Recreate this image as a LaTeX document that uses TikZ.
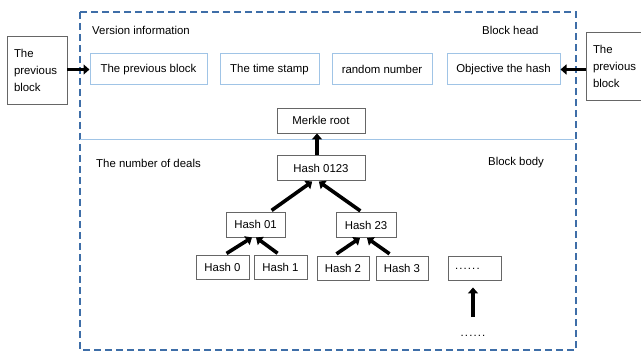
\documentclass[tikz,border=0pt]{standalone}
\usepackage{fontspec}
\setmainfont{Liberation Sans}
\usetikzlibrary{arrows.meta,positioning}
\definecolor{dashblue}{RGB}{62,110,168}
\definecolor{lightblue}{RGB}{160,196,230}
\tikzset{Chain/.style = {
		every node/.style = {font=\fontsize{11.4}{17}\selectfont, inner sep=0pt},
		headbox/.style = {draw=lightblue, line width=1pt, minimum height=31pt},
		hashbox/.style = {draw=black!60, line width=0.9pt, minimum height=25pt},
		sidebox/.style = {draw=black!60, line width=0.9pt, align=left, text width=46pt,
			minimum width=60pt, minimum height=68pt},
		caption/.style = {anchor=west},
		push/.style = {line width=3.6pt, -{Triangle[length=6pt,width=10pt]}},
	}% end of Chain style
}

\begin{document}
\begin{tikzpicture}[Chain,x=1pt,y=-1pt]
  \useasboundingbox (0,0) rectangle (641,353);

  % block frame
  \draw[dashblue, line width=1.8pt, dash pattern=on 7pt off 4pt] (80,12) rectangle (576,350);
  \coordinate (splitL) at (80,140);
  \coordinate (splitR) at (574,140);
  \draw[lightblue, line width=1pt] (splitL) -- (splitR);

  \node[caption] (verinfo) at (92,30) {Version information};
  \node[caption] (headtext) at (482,30) {Block head};
  \node[caption] (deals) at (96,163) {The number of deals};
  \node[caption] (bodytext) at (488,163) {Block body};

  % neighbours
  \node[sidebox] (prevL) at (37,70) {The\\previous\\block};
  \node[sidebox] (prevR) at (616,66) {The\\previous\\block};

  % block head
  \node[headbox, minimum width=117pt] (hprev) at (148.5,69.5) {The previous block};
  \node[headbox, minimum width=99pt] (htime) at (269.5,69.5) {The time stamp};
  \node[headbox, minimum width=100pt] (hrand) at (382,69.5) {random number};
  \node[headbox, minimum width=113pt] (hobj) at (503.5,69.5) {Objective the hash};
  \draw[push] (prevL.east |- hprev) -- (hprev.west);
  \draw[push] (prevR.west |- hobj) -- (hobj.east);

  % merkle tree
  \node[hashbox, minimum width=88pt] (merkle) at (321,120.5) {Merkle root};
  \node[hashbox, minimum width=88pt] (h0123) at (321,168) {Hash 0123};
  \node[hashbox, minimum width=59pt] (h01) at (255.5,224.5) {Hash 01};
  \node[hashbox, minimum width=60pt] (h23) at (366,225) {Hash 23};
  \node[hashbox, minimum width=53pt, minimum height=24pt] (h0) at (222.5,267.5) {Hash 0};
  \node[hashbox, minimum width=53pt, minimum height=24pt] (h1) at (280.5,267.5) {Hash 1};
  \node[hashbox, minimum width=52pt, minimum height=24pt] (h2) at (343,268) {Hash 2};
  \node[hashbox, minimum width=52pt, minimum height=24pt] (h3) at (402,268) {Hash 3};
  \node[hashbox, minimum height=24pt, text width=45pt, align=left, inner xsep=4pt] (hmore) at (474.5,268)
    {\hspace{3pt}\raisebox{-2pt}{\addfontfeatures{LetterSpace=10}......}};
  \node (more) at (473,336) {\addfontfeatures{LetterSpace=10}......};

  \draw[push] ([xshift=-4pt]h0123.north) -- ([xshift=-4pt]merkle.south);
  \draw[push, shorten <=2pt, shorten >=1pt] ([xshift=14.5pt]h01.north) -- ([xshift=-8pt]h0123.south);
  \draw[push, shorten <=2pt, shorten >=1pt] ([xshift=-4pt]h23.north) -- ([xshift=-3pt]h0123.south);
  \draw[push, shorten <=3pt] ([xshift=1.5pt]h0.north) -- ([xshift=-3.5pt]h01.south);
  \draw[push, shorten <=3pt] ([xshift=-0.5pt]h1.north) -- ([xshift=0.5pt]h01.south);
  \draw[push, shorten <=3pt] ([xshift=-9pt]h2.north) -- ([xshift=-6pt]h23.south);
  \draw[push, shorten <=3pt] ([xshift=-10pt]h3.north) -- ([xshift=1pt]h23.south);
  \draw[push, shorten <=18pt, shorten >=7pt] (more.north) -- (more.north |- hmore.south);
 \end{tikzpicture}
\end{document}
